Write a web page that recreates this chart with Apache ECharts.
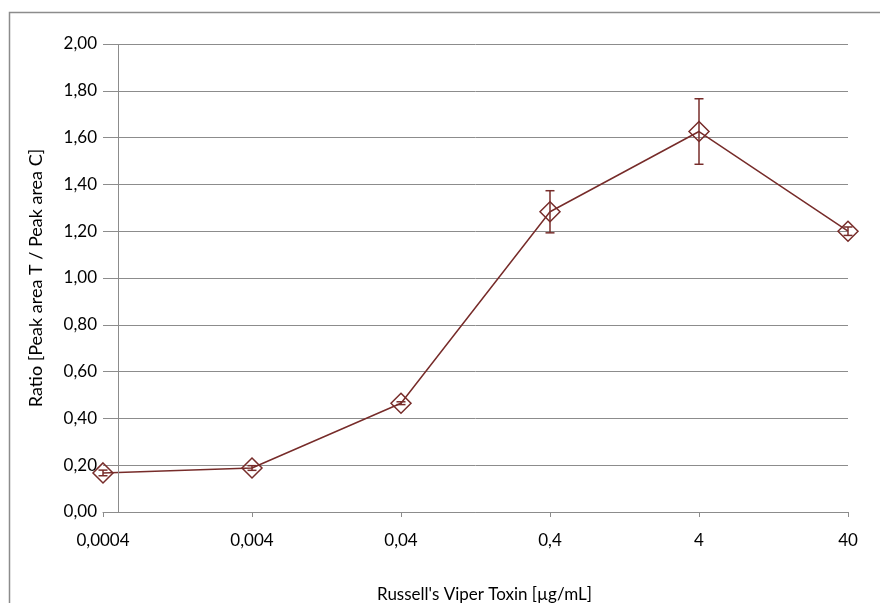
<!DOCTYPE html>
<html>
<head>
<meta charset="utf-8">
<script src="https://cdn.jsdelivr.net/npm/echarts@6/dist/echarts.min.js"></script>
<style>
  html, body { margin: 0; padding: 0; background: #fff; }
  #main { width: 880px; height: 603px; }
</style>
</head>
<body>
<div id="main"></div>
<script>
// toxin concentrations (µg/mL), one per decade
var concLabels = ['0,0004', '0,004', '0,04', '0,4', '4', '40'];
// mean ratio and error (±)
var ratio = [0.167, 0.188, 0.465, 1.283, 1.626, 1.200];
var ratioErr = [0.012, 0.010, 0.006, 0.090, 0.140, 0.018];
// where the y axis crosses the x axis (µg/mL)
var yCross = 0.0005;

window.onload = function() {
    var myChart = echarts.init(document.getElementById('main'));
    var font = 'Lato';
    var lineColor = '#772c2a';
    var gridColor = '#8c8c8c';

    var points = [];
    var bars = [];
    ratio.forEach(function(v, i) {
        points.push([i, v]);
        bars.push([i, v - ratioErr[i], v + ratioErr[i]]);
    });
    var crossPos = Math.log10(yCross / 0.0004);

    option = {
        animation: false,
        graphic: [{
            type: 'rect',
            shape: { x: 9.5, y: 12.5, width: 1000, height: 1000 },
            style: { fill: 'none', stroke: gridColor, lineWidth: 1.5 },
            silent: true
        }],
        grid: { left: 103, right: 32, top: 44, bottom: 91, outerBoundsMode: 'none' },
        xAxis: {
            type: 'value',
            min: 0,
            max: concLabels.length - 1,
            interval: 1,
            name: "Russell's Viper Toxin [µg/mL]",
            nameLocation: 'middle',
            nameGap: 74,
            nameTextStyle: { fontFamily: font, fontSize: 17, color: '#000', padding: [0, 0, 0, 18] },
            axisLine: { lineStyle: { color: gridColor, width: 1 } },
            axisTick: { show: true, length: 5, lineStyle: { color: gridColor } },
            axisLabel: {
                fontFamily: font, fontSize: 17, color: '#000', margin: 20,
                formatter: function(v) { return concLabels[Math.round(v)]; }
            },
            splitLine: { show: false }
        },
        yAxis: {
            type: 'value',
            min: 0,
            max: 2,
            interval: 0.2,
            name: 'Ratio [Peak area T / Peak area C]',
            nameLocation: 'middle',
            nameGap: 58,
            nameTextStyle: { fontFamily: font, fontSize: 18, color: '#000' },
            axisLine: { show: false },
            axisTick: { show: false },
            axisLabel: {
                fontFamily: font, fontSize: 17, color: '#000', margin: 6,
                formatter: function(v) { return v.toFixed(2).replace('.', ','); }
            },
            splitLine: { lineStyle: { color: gridColor, width: 1 } }
        },
        series: [{
            type: 'line',
            data: points,
            symbol: 'diamond',
            symbolSize: 20,
            lineStyle: { color: lineColor, width: 1.5 },
            itemStyle: { color: 'rgba(0,0,0,0)', borderColor: lineColor, borderWidth: 1.5 },
            emphasis: { disabled: true },
            markLine: {
                silent: true,
                symbol: 'none',
                label: { show: false },
                lineStyle: { color: gridColor, type: 'solid', width: 1 },
                data: [{ xAxis: crossPos }]
            },
            z: 3
        }, {
            type: 'custom',
            data: bars,
            renderItem: function(params, api) {
                var x = api.value(0);
                var lo = api.coord([x, api.value(1)]);
                var hi = api.coord([x, api.value(2)]);
                var cap = 4.5;
                var st = { stroke: lineColor, lineWidth: 1.5 };
                return {
                    type: 'group',
                    children: [
                        { type: 'line', shape: { x1: lo[0], y1: lo[1], x2: hi[0], y2: hi[1] }, style: st },
                        { type: 'line', shape: { x1: lo[0] - cap, y1: lo[1], x2: lo[0] + cap, y2: lo[1] }, style: st },
                        { type: 'line', shape: { x1: hi[0] - cap, y1: hi[1], x2: hi[0] + cap, y2: hi[1] }, style: st }
                    ]
                };
            },
            z: 4
        }]
    };

    myChart.setOption(option);
};
</script>
</body>
</html>
